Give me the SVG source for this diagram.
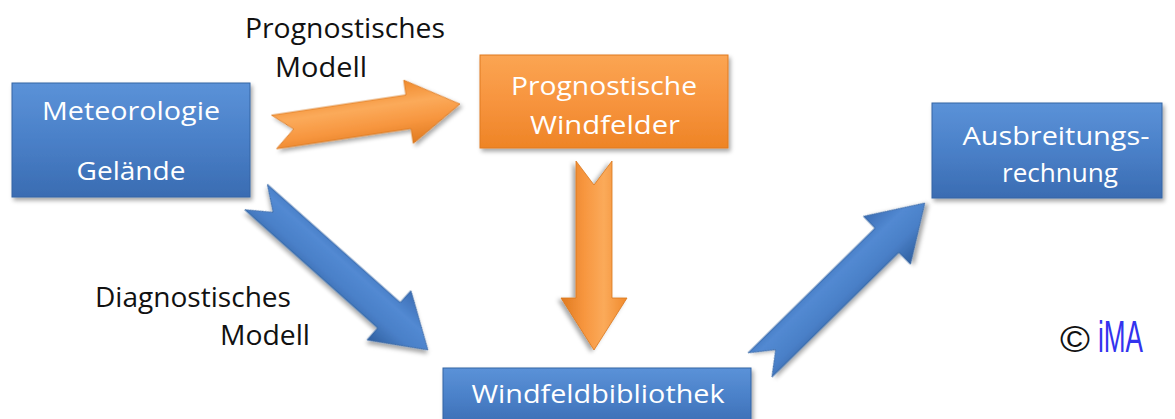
<svg xmlns="http://www.w3.org/2000/svg" width="1175" height="419" viewBox="0 0 1175 419">
  <defs>
    <linearGradient id="gBlue" x1="0" y1="0" x2="0" y2="1">
      <stop offset="0" stop-color="#5b92d8"/>
      <stop offset="0.5" stop-color="#4a80c8"/>
      <stop offset="1" stop-color="#3a6cb2"/>
    </linearGradient>
    <linearGradient id="gOrange" x1="0" y1="0" x2="0" y2="1">
      <stop offset="0" stop-color="#fba553"/>
      <stop offset="0.5" stop-color="#f7943e"/>
      <stop offset="1" stop-color="#ee8426"/>
    </linearGradient>
    <linearGradient id="aBlue" x1="0" y1="0" x2="0" y2="1">
      <stop offset="0" stop-color="#3b6db4"/>
      <stop offset="0.35" stop-color="#5289d2"/>
      <stop offset="0.65" stop-color="#4a80c8"/>
      <stop offset="1" stop-color="#2f5f9f"/>
    </linearGradient>
    <linearGradient id="aOrange" x1="0" y1="0" x2="0" y2="1">
      <stop offset="0" stop-color="#f08a2c"/>
      <stop offset="0.35" stop-color="#fbaa5a"/>
      <stop offset="0.65" stop-color="#f7963f"/>
      <stop offset="1" stop-color="#e07a1f"/>
    </linearGradient>
    <filter id="shadow" x="-10%" y="-10%" width="130%" height="140%">
      <feDropShadow dx="2" dy="3" stdDeviation="2" flood-color="#000" flood-opacity="0.35"/>
    </filter>
  </defs>
  <style>
    .boxB { fill: url(#gBlue); stroke: #3465a4; stroke-width: 1; filter: url(#shadow); }
    .boxO { fill: url(#gOrange); stroke: #e07b20; stroke-width: 1; filter: url(#shadow); }
    .arrB { fill: url(#aBlue); stroke: #2f5f9f; stroke-width: 0.8; filter: url(#shadow); }
    .arrO { fill: url(#aOrange); stroke: #d9761c; stroke-width: 0.8; filter: url(#shadow); }
    .tw { font-family: "Open Sans", "Liberation Sans", sans-serif; fill: #ffffff; font-size: 26px; text-anchor: middle; }
    .tb { font-family: "Open Sans", "Liberation Sans", sans-serif; fill: #111111; font-size: 27px; }
  </style>
  <rect width="1175" height="419" fill="#ffffff"/>

  <g id="connectors">
    <path class="arrO" transform="translate(274,132) rotate(-8.56)" d="M0,-17 L136,-17 L136,-32 L188,0 L136,32 L136,17 L0,17 L20,0 Z"/>
    <path class="arrO" transform="translate(594,161) rotate(90)" d="M0,-18 L137,-18 L137,-33 L189,0 L137,33 L137,18 L0,18 L24,0 Z"/>
    <path class="arrB" transform="translate(256,197) rotate(41.65)" d="M0,-17 L178,-17 L178,-33 L230,0 L178,33 L178,17 L0,17 L23,0 Z"/>
    <path class="arrB" transform="translate(760,365) rotate(-44.5)" d="M0,-17 L178,-17 L178,-33.5 L231,0 L178,33.5 L178,17 L0,17 L22,0 Z"/>
    <text class="tb" x="245" y="38" textLength="200" lengthAdjust="spacingAndGlyphs">Prognostisches</text>
    <text class="tb" x="275" y="77" textLength="92" lengthAdjust="spacingAndGlyphs">Modell</text>
    <text class="tb" x="95" y="307" textLength="196" lengthAdjust="spacingAndGlyphs">Diagnostisches</text>
    <text class="tb" x="220" y="345" textLength="90" lengthAdjust="spacingAndGlyphs">Modell</text>
  </g>

  <g id="meteorologie">
    <rect class="boxB" x="12" y="83" width="238" height="114"/>
    <text class="tw" x="131" y="120" textLength="178" lengthAdjust="spacingAndGlyphs">Meteorologie</text>
    <text class="tw" x="131" y="180" textLength="109" lengthAdjust="spacingAndGlyphs">Gelände</text>
  </g>

  <g id="prognostische">
    <rect class="boxO" x="480" y="55" width="248" height="93"/>
    <text class="tw" x="604" y="95" textLength="186" lengthAdjust="spacingAndGlyphs">Prognostische</text>
    <text class="tw" x="605" y="134" textLength="150" lengthAdjust="spacingAndGlyphs">Windfelder</text>
  </g>

  <g id="ausbreitung">
    <rect class="boxB" x="932" y="103" width="230" height="95"/>
    <text class="tw" x="1056" y="145" textLength="187" lengthAdjust="spacingAndGlyphs">Ausbreitungs-</text>
    <text class="tw" x="1060" y="182" textLength="116" lengthAdjust="spacingAndGlyphs">rechnung</text>
  </g>

  <g id="windfeldbibliothek">
    <rect class="boxB" x="443" y="368" width="308" height="60"/>
    <text class="tw" x="598" y="403" textLength="253" lengthAdjust="spacingAndGlyphs">Windfeldbibliothek</text>
  </g>

  <g id="copyright">
    <text x="1060" y="352" font-family="'Liberation Sans', sans-serif" font-size="36" fill="#111111" textLength="30" lengthAdjust="spacingAndGlyphs">©</text>
    <text x="1098" y="352" font-family="'Liberation Sans Narrow', 'Liberation Sans', sans-serif" font-size="44" fill="#3333ee" textLength="45" lengthAdjust="spacingAndGlyphs">iMA</text>
  </g>
</svg>
